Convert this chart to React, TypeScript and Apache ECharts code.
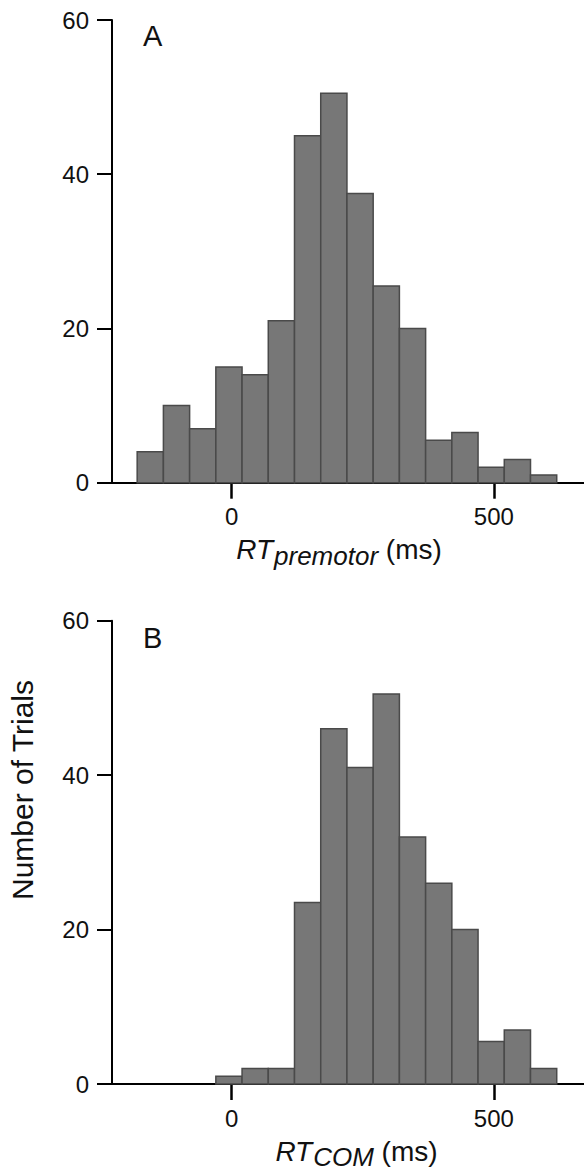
import React, { useEffect, useRef } from "react";
import * as echarts from "echarts";

// Histogram A: RT premotor (bin starts in ms, counts)
const binStartsA = [-180, -130, -80, -30, 20, 70, 120, 170, 220, 270, 320, 370, 420, 470, 520, 570];
const countsA = [4, 10, 7, 15, 14, 21, 45, 50.5, 37.5, 25.5, 20, 5.5, 6.5, 2, 3, 1];
// Histogram B: RT COM
const binStartsB = [-30, 20, 70, 120, 170, 220, 270, 320, 370, 420, 470, 520, 570];
const countsB = [1, 2, 2, 23.5, 46, 41, 50.5, 32, 26, 20, 5.5, 7, 2];
const binWidth = 50;
const xTickValues = [0, 500];
const yTickValues = [0, 20, 40, 60];
const panelLabels = ["A", "B"];
const yAxisTitle = "Number of Trials";

const FONT = "'Liberation Sans', Arial, Helvetica, sans-serif";

function histData(starts: number[], counts: number[]) {
  return starts.map((s, i) => [s, s + binWidth, counts[i]]);
}

function renderBar(params: any, api: any) {
  const x0 = api.value(0);
  const x1 = api.value(1);
  const y = api.value(2);
  const p0 = api.coord([x0, y]);
  const p1 = api.coord([x1, 0]);
  return {
    type: "rect",
    shape: { x: p0[0], y: p0[1], width: p1[0] - p0[0], height: p1[1] - p0[1] },
    style: { fill: "#777777", stroke: "#4a4a4a", lineWidth: 1.5 },
  };
}

function xAxisFor(gridIndex: number, nameRich: string, pad: number[]) {
  return {
    type: "value",
    gridIndex,
    min: -228,
    max: 672,
    axisLine: { show: true, onZero: false, lineStyle: { color: "#000", width: 2 } },
    axisTick: { show: true, customValues: xTickValues, length: 16, lineStyle: { color: "#000", width: 2.5 } },
    axisLabel: { customValues: xTickValues, fontSize: 24, color: "#111", fontFamily: FONT, margin: 22 },
    splitLine: { show: false },
    name: nameRich,
    nameLocation: "middle",
    nameGap: 52,
    nameTextStyle: {
      fontFamily: FONT,
      color: "#111",
      padding: pad,
      rich: {
        it: { fontSize: 28, fontStyle: "italic", fontFamily: FONT, color: "#111", lineHeight: 30 },
        sub: { fontSize: 26, fontStyle: "italic", fontFamily: FONT, color: "#111", lineHeight: 26, padding: [12, 0, 0, 1] },
        n: { fontSize: 28, fontFamily: FONT, color: "#111", lineHeight: 30 },
      },
    },
  };
}

function yAxisFor(gridIndex: number) {
  return {
    type: "value",
    gridIndex,
    min: 0,
    max: 60,
    interval: 20,
    axisLine: { show: true, onZero: false, lineStyle: { color: "#000", width: 2 } },
    axisTick: { show: true, length: 15, lineStyle: { color: "#000", width: 2 } },
    axisLabel: { fontSize: 24, color: "#111", fontFamily: FONT, margin: 23, customValues: yTickValues },
    splitLine: { show: false },
  };
}

export default function App() {
  const ref = useRef<HTMLDivElement>(null);
  useEffect(() => {
    if (!ref.current) return;
    const chart = echarts.init(ref.current, undefined, { renderer: "svg" });
    chart.setOption({
      animation: false,
      backgroundColor: "#fff",
      grid: [
        { left: 112, top: 20, width: 472, height: 462.7 },
        { left: 112, top: 620.7, width: 472, height: 463.3 },
      ],
      xAxis: [
        xAxisFor(0, "{it|RT}{sub|premotor}{n| (ms)}", [0, 18, 0, 0]),
        xAxisFor(1, "{it|RT}{sub|COM}{n| (ms)}", [0, 0, 0, 17]),
      ],
      yAxis: [yAxisFor(0), yAxisFor(1)],
      series: [
        {
          type: "custom",
          xAxisIndex: 0,
          yAxisIndex: 0,
          renderItem: renderBar,
          encode: { x: [0, 1], y: 2 },
          data: histData(binStartsA, countsA),
          clip: false,
        },
        {
          type: "custom",
          xAxisIndex: 1,
          yAxisIndex: 1,
          renderItem: renderBar,
          encode: { x: [0, 1], y: 2 },
          data: histData(binStartsB, countsB),
          clip: false,
        },
      ],
      graphic: [
        {
          type: "text",
          x: 143,
          y: 36,
          style: { text: panelLabels[0], fontSize: 29, fontFamily: FONT, fill: "#111", verticalAlign: "middle" },
        },
        {
          type: "text",
          x: 143,
          y: 637.5,
          style: { text: panelLabels[1], fontSize: 29, fontFamily: FONT, fill: "#111", verticalAlign: "middle" },
        },
        {
          type: "text",
          x: 22,
          y: 790,
          rotation: Math.PI / 2,
          style: {
            text: yAxisTitle,
            fontSize: 30,
            fontFamily: FONT,
            fill: "#111",
            align: "center",
            verticalAlign: "middle",
          },
        },
      ],
    });
    return () => chart.dispose();
  }, []);
  return (
    <div
      ref={ref}
      style={{ position: "fixed", left: 0, top: 0, width: 584, height: 1174, background: "#fff" }}
    />
  );
}
